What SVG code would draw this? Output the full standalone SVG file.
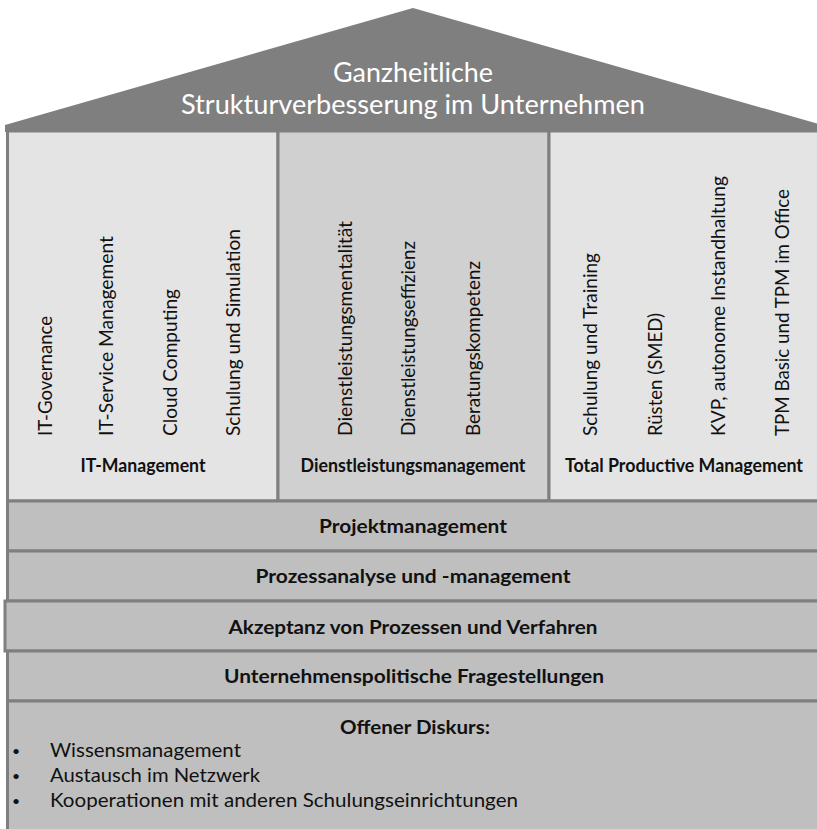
<svg xmlns="http://www.w3.org/2000/svg" width="817" height="829" viewBox="0 0 817 829">
<style>
.roof{fill:#7f7f7f;}
.col{stroke:#7f7f7f;stroke-width:3;}
.colA{fill:#e4e4e4;}
.colB{fill:#d0d0d0;}
.row{fill:#bfbfbf;stroke:#7f7f7f;stroke-width:3;}
text{font-family:Lato,"Open Sans","Liberation Sans",sans-serif;fill:#111;}
.title{fill:#ffffff;font-size:26px;text-anchor:middle;}
.v{font-size:20px;}
.h{font-size:18px;font-weight:bold;text-anchor:middle;}
.r{font-size:19px;font-weight:bold;text-anchor:middle;}
.l{font-size:19px;}
.b{font-size:14px;}
</style>
<rect x="0" y="0" width="817" height="829" fill="#ffffff"/>
<g id="roof">
<polygon class="roof" points="5,132 5,125 413,8 822,125 822,132"/>
<text class="title" x="413" y="82" textLength="160" lengthAdjust="spacingAndGlyphs">Ganzheitliche</text>
<text class="title" x="413" y="114" textLength="464" lengthAdjust="spacingAndGlyphs">Strukturverbesserung im Unternehmen</text>
</g>
<g id="it-management">
<rect class="col colA" x="7.5" y="131" width="270.5" height="370"/>
<text class="v" transform="translate(52,436) rotate(-90)" textLength="120" lengthAdjust="spacingAndGlyphs">IT-Governance</text>
<text class="v" transform="translate(113,436) rotate(-90)" textLength="200" lengthAdjust="spacingAndGlyphs">IT-Service  Management</text>
<text class="v" transform="translate(177,436) rotate(-90)" textLength="147" lengthAdjust="spacingAndGlyphs">Cloud Computing</text>
<text class="v" transform="translate(240,436) rotate(-90)" textLength="207" lengthAdjust="spacingAndGlyphs">Schulung  und  Simulation</text>
<text class="h" x="143" y="472" textLength="125" lengthAdjust="spacingAndGlyphs">IT-Management</text>
</g>
<g id="dienstleistungsmanagement">
<rect class="col colB" x="278" y="131" width="271" height="370"/>
<text class="v" transform="translate(352,436) rotate(-90)" textLength="215" lengthAdjust="spacingAndGlyphs">Dienstleistungsmentalität</text>
<text class="v" transform="translate(415,436) rotate(-90)" textLength="195" lengthAdjust="spacingAndGlyphs">Dienstleistungseffizienz</text>
<text class="v" transform="translate(480,436) rotate(-90)" textLength="175" lengthAdjust="spacingAndGlyphs">Beratungskompetenz</text>
<text class="h" x="413" y="472" textLength="225" lengthAdjust="spacingAndGlyphs">Dienstleistungsmanagement</text>
</g>
<g id="total-productive-management">
<rect class="col colA" x="549" y="131" width="280" height="370"/>
<text class="v" transform="translate(597,436) rotate(-90)" textLength="183" lengthAdjust="spacingAndGlyphs">Schulung  und Training</text>
<text class="v" transform="translate(662,436) rotate(-90)" textLength="123" lengthAdjust="spacingAndGlyphs">Rüsten (SMED)</text>
<text class="v" transform="translate(725,436) rotate(-90)" textLength="260" lengthAdjust="spacingAndGlyphs">KVP, autonome Instandhaltung</text>
<text class="v" transform="translate(789,436) rotate(-90)" textLength="247" lengthAdjust="spacingAndGlyphs">TPM Basic und TPM im Office</text>
<text class="h" x="684" y="472" textLength="238" lengthAdjust="spacingAndGlyphs">Total Productive Management</text>
</g>
<g id="projektmanagement">
<rect class="row" x="7.5" y="501" width="822" height="50"/>
<text class="r" x="413" y="533" textLength="188" lengthAdjust="spacingAndGlyphs">Projektmanagement</text>
</g>
<g id="prozessanalyse">
<rect class="row" x="7.5" y="551" width="822" height="50"/>
<text class="r" x="413" y="583" textLength="315" lengthAdjust="spacingAndGlyphs">Prozessanalyse und -management</text>
</g>
<g id="akzeptanz">
<rect class="row" x="5" y="601" width="825" height="50"/>
<text class="r" x="413" y="634" textLength="369" lengthAdjust="spacingAndGlyphs">Akzeptanz von Prozessen und Verfahren</text>
</g>
<g id="unternehmenspolitik">
<rect class="row" x="7.5" y="651" width="822" height="50"/>
<text class="r" x="414" y="683" textLength="380" lengthAdjust="spacingAndGlyphs">Unternehmenspolitische Fragestellungen</text>
</g>
<g id="offener-diskurs">
<rect class="row" x="7.5" y="701" width="822" height="140"/>
<text class="r" x="415" y="734" textLength="150" lengthAdjust="spacingAndGlyphs">Offener Diskurs:</text>
<text class="b" x="12" y="756">•</text>
<text class="l" x="50" y="757" textLength="191" lengthAdjust="spacingAndGlyphs">Wissensmanagement</text>
<text class="b" x="12" y="781">•</text>
<text class="l" x="50" y="782" textLength="210" lengthAdjust="spacingAndGlyphs">Austausch im Netzwerk</text>
<text class="b" x="12" y="806">•</text>
<text class="l" x="50" y="807" textLength="468" lengthAdjust="spacingAndGlyphs">Kooperationen  mit  anderen  Schulungseinrichtungen</text>
</g>
</svg>
